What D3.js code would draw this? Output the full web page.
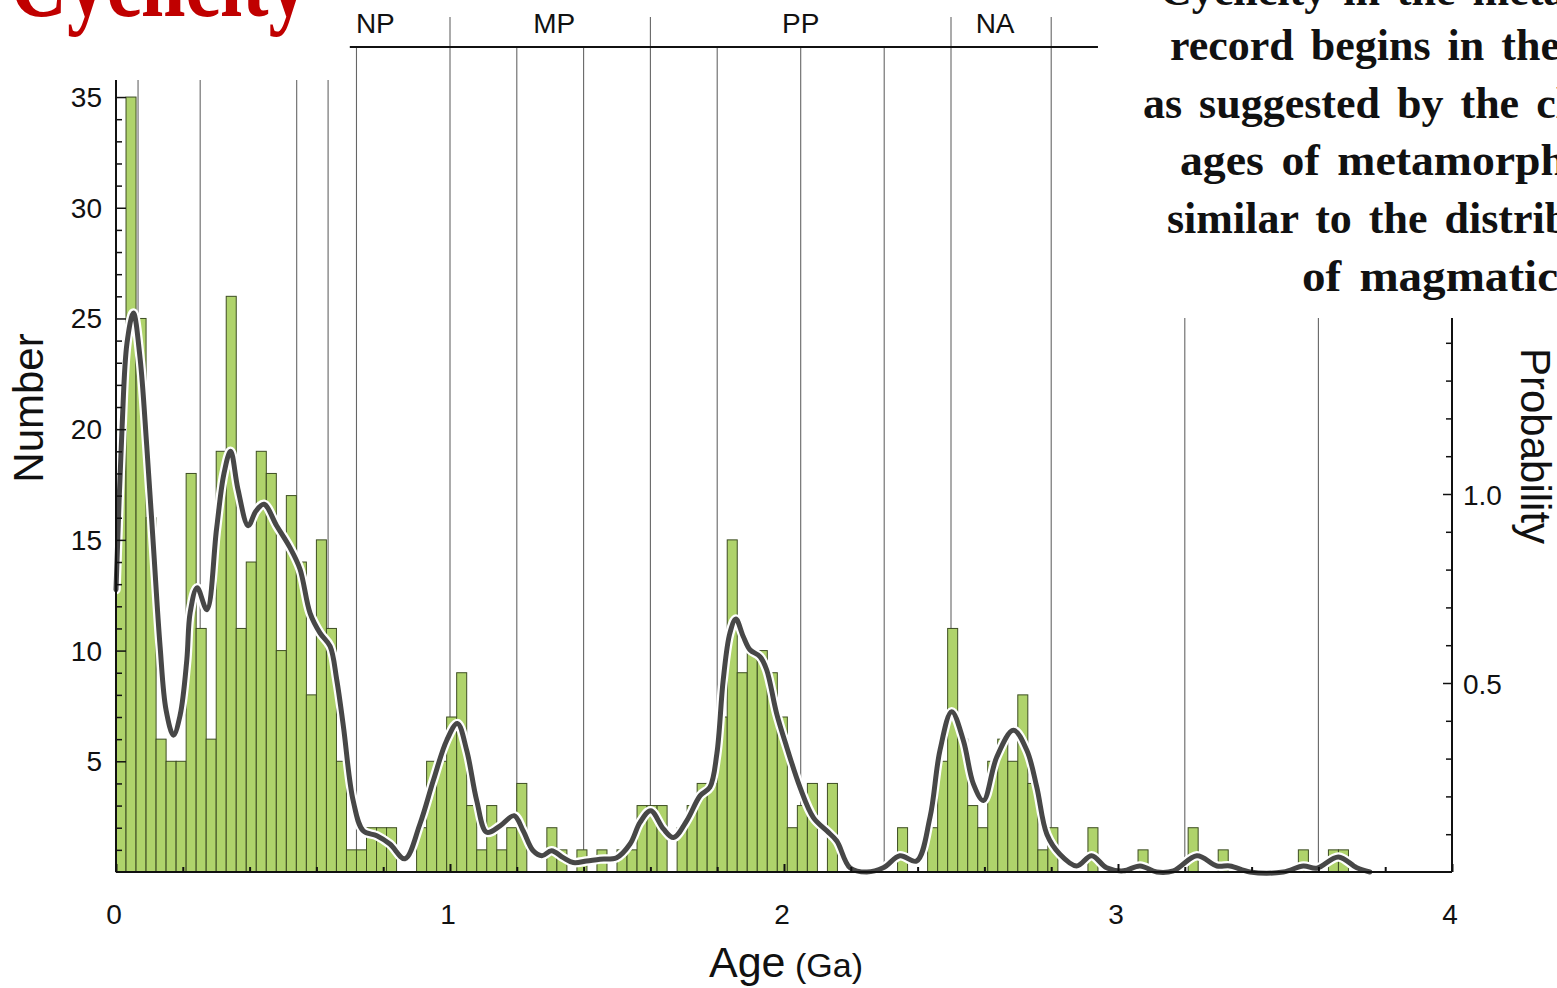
<!DOCTYPE html>
<html>
<head>
<meta charset="utf-8">
<script src="https://cdn.jsdelivr.net/npm/d3@7"></script>
<style>
  html, body { margin: 0; padding: 0; background: #fff; overflow: hidden; }
  svg { display: block; }
</style>
</head>
<body>
<svg id="chart" width="1557" height="988"></svg>
<script>
// ---------------- DATA ----------------
const binWidth = 0.03; // Ga
// Histogram counts, one per 0.03 Ga bin starting at 0 Ga
const counts = [
  20, 35, 25, 16, 6, 5, 5, 18, 11, 6,
  19, 26, 11, 14, 19, 18, 10, 17, 14, 8,
  15, 11, 5, 1, 1, 2, 2, 2, 0, 0,
  2, 5, 5, 7, 9, 3, 1, 3, 1, 2,
  4, 0, 0, 2, 1, 0, 1, 0, 1, 0,
  1, 1, 3, 3, 3, 0, 2, 3, 4, 4,
  7, 15, 9, 10, 10, 9, 7, 2, 3, 4,
  0, 4, 0, 0, 0, 0, 0, 0, 2, 0,
  0, 2, 5, 11, 6, 3, 2, 5, 6, 5,
  8, 4, 1, 2, 0, 0, 0, 2, 0, 0,
  0, 0, 1, 0, 0, 0, 0, 2, 0, 0,
  1, 0, 0, 0, 0, 0, 0, 0, 1, 0,
  0, 1, 1, 0, 0
];

// Probability density curve
const curveAges = [
  0.000, 0.018, 0.033, 0.052, 0.072, 0.092, 0.112, 0.132, 0.150, 0.172,
  0.192, 0.212, 0.222, 0.243, 0.272, 0.301, 0.323, 0.343, 0.365, 0.396,
  0.419, 0.443, 0.481, 0.521, 0.551, 0.581, 0.611, 0.641, 0.661, 0.681,
  0.710, 0.740, 0.781, 0.820, 0.865, 0.910, 0.950, 0.990, 1.022, 1.050,
  1.080, 1.110, 1.150, 1.192, 1.219, 1.249, 1.275, 1.304, 1.339, 1.369,
  1.409, 1.449, 1.499, 1.539, 1.569, 1.601, 1.639, 1.669, 1.709, 1.749,
  1.778, 1.799, 1.818, 1.838, 1.856, 1.878, 1.898, 1.928, 1.948, 1.978,
  2.008, 2.048, 2.088, 2.128, 2.158, 2.198, 2.248, 2.297, 2.347, 2.397,
  2.437, 2.467, 2.502, 2.537, 2.567, 2.597, 2.637, 2.687, 2.727, 2.757,
  2.787, 2.826, 2.876, 2.921, 2.966, 3.016, 3.066, 3.116, 3.166, 3.236,
  3.296, 3.335, 3.395, 3.495, 3.555, 3.595, 3.660, 3.715, 3.754
];
const curveProb = [
  0.747, 1.173, 1.400, 1.479, 1.360, 1.128, 0.862, 0.597, 0.428, 0.362,
  0.415, 0.561, 0.686, 0.752, 0.694, 0.907, 1.053, 1.113, 1.013, 0.916,
  0.955, 0.973, 0.916, 0.858, 0.801, 0.685, 0.632, 0.597, 0.508, 0.384,
  0.189, 0.109, 0.096, 0.074, 0.035, 0.127, 0.242, 0.348, 0.393, 0.322,
  0.189, 0.105, 0.122, 0.149, 0.109, 0.056, 0.043, 0.056, 0.038, 0.025,
  0.029, 0.034, 0.038, 0.074, 0.131, 0.162, 0.114, 0.091, 0.136, 0.202,
  0.224, 0.313, 0.508, 0.632, 0.669, 0.623, 0.588, 0.570, 0.535, 0.419,
  0.331, 0.224, 0.144, 0.109, 0.082, 0.011, 0.000, 0.011, 0.043, 0.029,
  0.144, 0.322, 0.424, 0.348, 0.233, 0.189, 0.304, 0.375, 0.322, 0.224,
  0.100, 0.047, 0.016, 0.043, 0.011, 0.003, 0.016, 0.000, 0.003, 0.043,
  0.016, 0.016, 0.000, 0.000, 0.016, 0.010, 0.040, 0.011, 0.000
];

// Boundary lines (Ga)
const boundaryAges = [0.066, 0.252, 0.541, 0.635, 0.72, 1.0, 1.2, 1.4, 1.6, 1.8, 2.05, 2.3, 2.5, 2.8, 3.2, 3.6];
// Era bar
const eraNames = ["NP", "MP", "PP", "NA"];
const eraStarts = [0.541, 1.0, 1.6, 2.5];
const eraEnds = [1.0, 1.6, 2.5, 2.8];
const eraBarRange = [0.70, 2.94];

// Axis ticks
const xTickLabels = [0, 1, 2, 3, 4];
const yLeftTickLabels = [5, 10, 15, 20, 25, 30, 35];
const yRightTickLabels = [0.5, 1.0];

const titleText = "Cyclicity";
const sideText = [
  "Cyclicity in the metamorphic",
  "record begins in the",
  "as suggested by the clustered",
  "ages of metamorphic rocks,",
  "similar to the distribution",
  "of magmatic ages"
];

// ---------------- DRAW ----------------
const svg = d3.select("#chart");
const font = "'Liberation Sans', Arial, sans-serif";

const x = d3.scaleLinear().domain([0, 4]).range([116, 1452]);
const yL = d3.scaleLinear().domain([0, 35.77]).range([872, 80]);
const yR = d3.scaleLinear().domain([0, 1]).range([872, 494]);
const plotTop = 80;

// gray boundary lines (behind bars)
svg.append("g").selectAll("line").data(boundaryAges).join("line")
  .attr("x1", d => x(d)).attr("x2", d => x(d))
  .attr("y1", d => d >= eraBarRange[0] ? 47 : plotTop)
  .attr("y2", 872)
  .attr("stroke", "#666").attr("stroke-width", 1.1);

// era ticks above the bar
svg.append("g").selectAll("line").data(eraEnds).join("line")
  .attr("x1", d => x(d)).attr("x2", d => x(d))
  .attr("y1", 17).attr("y2", 47)
  .attr("stroke", "#666").attr("stroke-width", 1.1);

svg.append("line")
  .attr("x1", x(eraBarRange[0])).attr("x2", x(eraBarRange[1]))
  .attr("y1", 47).attr("y2", 47)
  .attr("stroke", "#111").attr("stroke-width", 2);

const eraLabelShift = [2, 4, 0, -6];
svg.append("g").selectAll("text").data(eraNames).join("text")
  .attr("x", (d, i) => x((eraStarts[i] + eraEnds[i]) / 2) + eraLabelShift[i])
  .attr("y", 33)
  .attr("text-anchor", "middle")
  .attr("font-family", font).attr("font-size", 28)
  .attr("fill", "#111")
  .text(d => d);

// bars
const barData = counts.map((c, i) => ({ start: i * binWidth, end: (i + 1) * binWidth, c }))
  .filter(d => d.c > 0);
svg.append("g").selectAll("rect").data(barData).join("rect")
  .attr("x", d => x(d.start))
  .attr("y", d => yL(d.c))
  .attr("width", d => x(d.end) - x(d.start))
  .attr("height", d => yL(0) - yL(d.c))
  .attr("fill", "#afd36b")
  .attr("stroke", "#3d4d22")
  .attr("stroke-width", 1);

// density curve
const pts = curveAges.map((a, i) => [a, curveProb[i]]);
const line = d3.line().x(d => x(d[0])).y(d => yR(d[1])).curve(d3.curveCatmullRom.alpha(0.5));
svg.append("path").attr("d", line(pts))
  .attr("fill", "none").attr("stroke", "#fff").attr("stroke-width", 9.5)
  .attr("stroke-linejoin", "round").attr("stroke-linecap", "round");
svg.append("path").attr("d", line(pts))
  .attr("fill", "none").attr("stroke", "#474747").attr("stroke-width", 5)
  .attr("stroke-linejoin", "round").attr("stroke-linecap", "round");

// left axis
const leftAxis = d3.axisRight(yL).tickValues(d3.range(1, 36)).tickSize(6).tickFormat("");
const gL = svg.append("g").attr("transform", "translate(116,0)").call(leftAxis);
gL.selectAll(".tick line").attr("stroke", "#111").attr("stroke-width", 1.5)
  .attr("x2", d => yLeftTickLabels.includes(d) ? 10 : 6);
gL.select(".domain").attr("stroke", "#111").attr("stroke-width", 2)
  .attr("d", `M0,${plotTop}V872`);
svg.append("g").selectAll("text").data(yLeftTickLabels).join("text")
  .attr("x", 102).attr("y", d => yL(d) + 10)
  .attr("text-anchor", "end")
  .attr("font-family", font).attr("font-size", 28).attr("fill", "#111")
  .text(d => d);

// bottom axis
const bottomAxis = d3.axisTop(x).tickValues(d3.range(0, 21).map(i => i * 0.2)).tickSize(5).tickFormat("");
const gB = svg.append("g").attr("transform", "translate(0,872)").call(bottomAxis);
gB.selectAll(".tick line").attr("stroke", "#111").attr("stroke-width", 2)
  .attr("y2", d => Math.abs(d - Math.round(d)) < 1e-6 ? -8 : -5);
gB.select(".domain").attr("stroke", "#111").attr("stroke-width", 2).attr("d", "M116,0H1452");
svg.append("g").selectAll("text").data(xTickLabels).join("text")
  .attr("x", d => x(d) - 2).attr("y", 924)
  .attr("text-anchor", "middle")
  .attr("font-family", font).attr("font-size", 28).attr("fill", "#111")
  .text(d => d);

// right axis
const rightAxis = d3.axisLeft(yR).tickValues(d3.range(1, 15).map(i => i / 10)).tickSize(6).tickFormat("");
const gR = svg.append("g").attr("transform", "translate(1452,0)").call(rightAxis);
gR.selectAll(".tick line").attr("stroke", "#111").attr("stroke-width", 1.5)
  .attr("x2", d => (Math.abs(d - 0.5) < 1e-6 || Math.abs(d - 1) < 1e-6) ? -9 : -6);
gR.select(".domain").attr("stroke", "#111").attr("stroke-width", 2).attr("d", `M0,${yR(1.5)}V872`);
svg.append("g").selectAll("text").data(yRightTickLabels).join("text")
  .attr("x", 1463).attr("y", d => yR(d) + 11)
  .attr("text-anchor", "start")
  .attr("font-family", font).attr("font-size", 28).attr("fill", "#111")
  .text(d => d.toFixed(1));

// axis titles
const xt = svg.append("text").attr("x", 786).attr("y", 977)
  .attr("text-anchor", "middle").attr("font-family", font).attr("fill", "#111");
xt.append("tspan").attr("font-size", 43).text("Age");
xt.append("tspan").attr("font-size", 34).text(" (Ga)");

svg.append("text")
  .attr("transform", "translate(43,408) rotate(-90)")
  .attr("text-anchor", "middle").attr("font-family", font).attr("font-size", 42)
  .attr("fill", "#111").text("Number");

svg.append("text")
  .attr("transform", "translate(1521,446) rotate(90)")
  .attr("text-anchor", "middle").attr("font-family", font).attr("font-size", 42)
  .attr("fill", "#111").text("Probability");

// slide overlay: white text box at top right
svg.append("rect").attr("x", 1099).attr("y", 0).attr("width", 458).attr("height", 318).attr("fill", "#fff");

const lineStarts = [1160, 1170, 1143, 1180, 1167, 1302];
const lineBase = [5, 60, 118, 175, 233, 291];
const lineStretch = [1.0, 1.0, 1.0, 1.04, 1.0, 1.07];
svg.append("g").selectAll("text").data(sideText).join("text")
  .attr("transform", (d, i) => `translate(${lineStarts[i]},${lineBase[i]}) scale(${lineStretch[i]},1)`)
  .attr("font-family", "'Liberation Serif', 'Times New Roman', serif")
  .attr("font-weight", "bold").attr("font-size", 44)
  .attr("word-spacing", 6)
  .attr("fill", "#111")
  .text(d => d);

// red title (cut at top)
svg.append("text")
  .attr("x", 10).attr("y", 16)
  .attr("font-family", "'Liberation Serif', 'Times New Roman', serif")
  .attr("font-weight", "bold").attr("font-size", 100)
  .attr("textLength", 298).attr("lengthAdjust", "spacingAndGlyphs")
  .attr("fill", "#c00000")
  .text(titleText);
</script>
</body>
</html>
